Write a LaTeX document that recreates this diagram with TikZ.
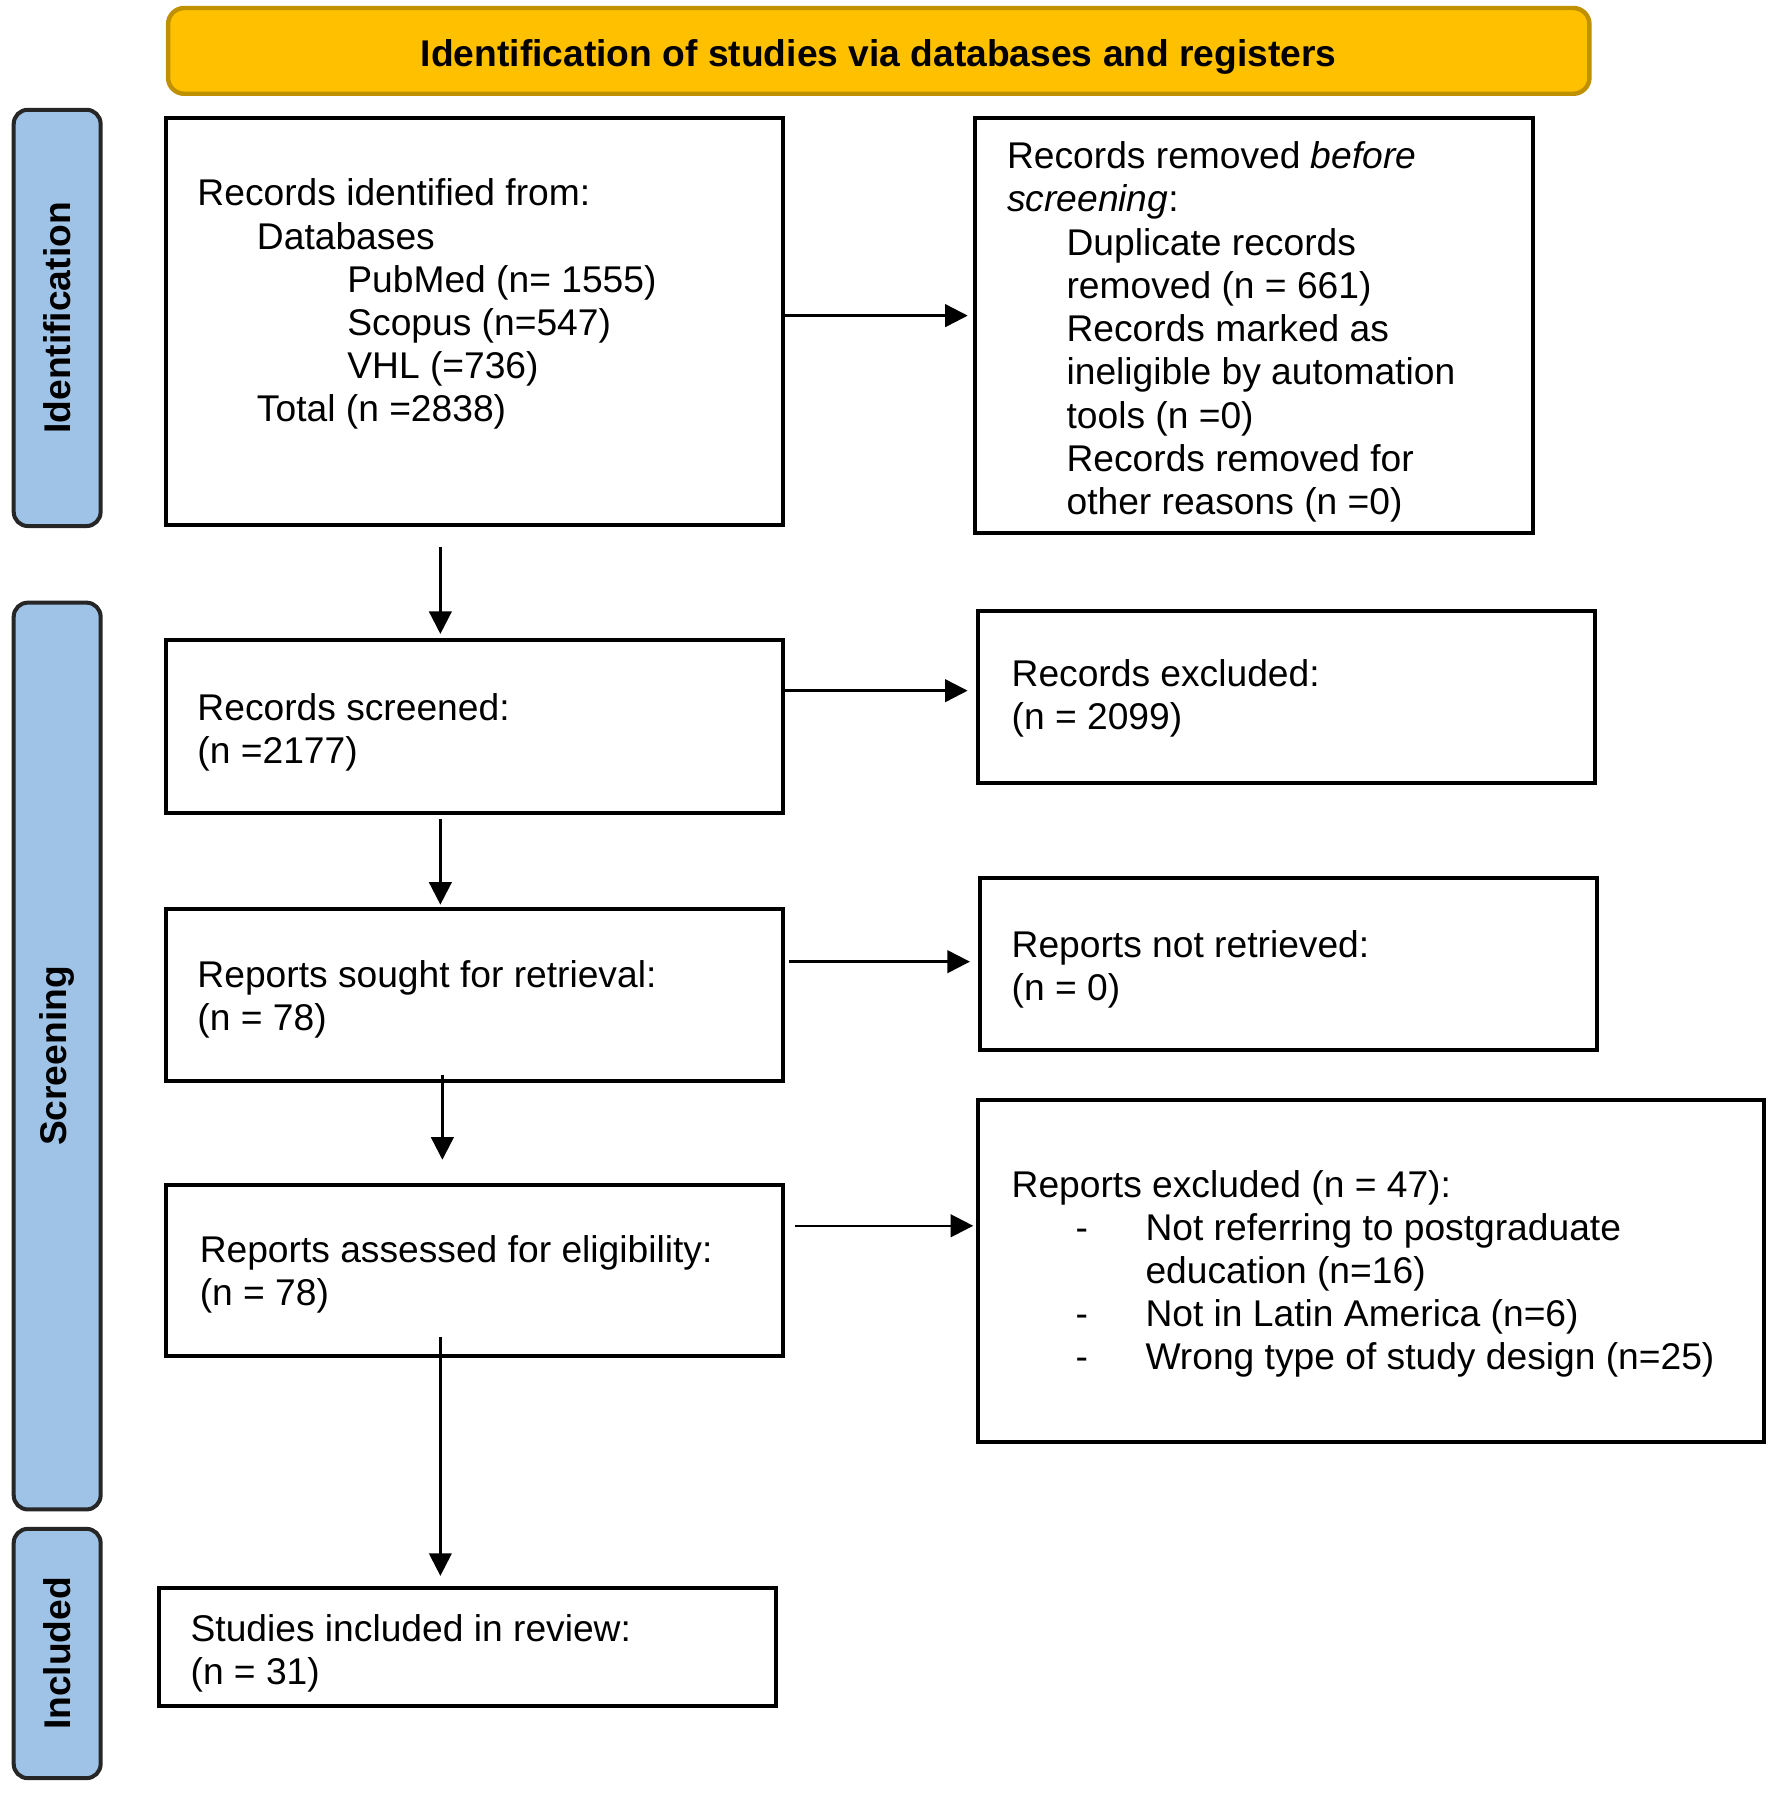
\documentclass[tikz,border=0pt]{standalone}
\usepackage{fontspec}
\setmainfont{Liberation Sans}
\usetikzlibrary{arrows.meta,fit,calc}
\definecolor{hdrfill}{HTML}{FFC000}
\definecolor{hdrline}{HTML}{BF9000}
\definecolor{sidefill}{HTML}{9FC3E7}
\begin{document}
\begin{tikzpicture}[x=0.01cm,y=-0.01cm,
  box/.style={draw=black, line width=1pt, inner sep=0pt, fill=white},
  hdr/.style={draw=hdrline, fill=hdrfill, line width=1.1pt, rounded corners=4pt, inner sep=0pt},
  hdrtxt/.style={anchor=base, inner sep=0pt, font=\fontsize{9.25pt}{11pt}\selectfont\bfseries},
  side/.style={draw=black!85, fill=sidefill, line width=1pt, rounded corners=3.5pt, inner sep=0pt},
  txt/.style={anchor=base west, inner sep=0pt, align=left, font=\fontsize{9.25pt}{10.75pt}\selectfont},
  arr/.style={-{Triangle[length=5.6pt,width=5.6pt]}, line width=0.6pt},
  sidelbl/.style={rotate=90, inner sep=0pt, font=\fontsize{9.25pt}{11pt}\selectfont\bfseries}
]
\useasboundingbox (0,0) rectangle (1550,1568);

% header
\node[hdr, fit={(147,7)(1390,82)}] (hdr) {};
\node[hdrtxt] (title) at ([yshift=-3.8pt]hdr.center) {Identification of studies via databases and registers};

% side bars
\node[side, fit={(12,96)(88,460)}] (s1) {};
\node[side, fit={(12,527)(88,1320)}] (s2) {};
\node[side, fit={(12,1337)(88,1555)}] (s3) {};
\node[sidelbl] (l1) at (s1.center) {Identification};
\node[sidelbl] (l2) at (s2.center) {Screening};
\node[sidelbl] (l3) at (s3.center) {Included};

% boxes
\node[box, fit={(145,103)(685,459)}] (b1) {};
\node[box, fit={(853,103)(1341,466)}] (b4) {};
\node[box, fit={(145,560)(685,711)}] (b2) {};
\node[box, fit={(855,534)(1395,685)}] (b3) {};
\node[box, fit={(145,795)(685,945)}] (b5) {};
\node[box, fit={(857,768)(1397,918)}] (b6) {};
\node[box, fit={(145,1036)(685,1186)}] (b7) {};
\node[box, fit={(855,962)(1543,1261)}] (b9) {};
\node[box, fit={(139,1389)(679,1492)}] (b8) {};

% texts (anchor = baseline of the last line)
\node[txt] (t1) at (172,369) {Records identified from:\\
\hspace*{0.52cm}Databases\\
\hspace*{1.31cm}PubMed (n= 1555)\\
\hspace*{1.31cm}Scopus (n=547)\\
\hspace*{1.31cm}VHL (=736)\\
\hspace*{0.52cm}Total (n =2838)};

\node[txt] (t4) at (880,450) {Records removed \textit{before}\\
\textit{screening}:\\
\hspace*{0.52cm}Duplicate records\\
\hspace*{0.52cm}removed (n = 661)\\
\hspace*{0.52cm}Records marked as\\
\hspace*{0.52cm}ineligible by automation\\
\hspace*{0.52cm}tools (n =0)\\
\hspace*{0.52cm}Records removed for\\
\hspace*{0.52cm}other reasons (n =0)};

\node[txt] (t2) at (172,668) {Records screened:\\(n =2177)};
\node[txt] (t3) at (884,638) {Records excluded:\\(n = 2099)};
\node[txt] (t5) at (172,901) {Reports sought for retrieval:\\(n = 78)};
\node[txt] (t6) at (884,875) {Reports not retrieved:\\(n = 0)};
\node[txt] (t7) at (174,1142) {Reports assessed for eligibility:\\(n = 78)};
\node[txt] (t9) at (884,1198) {Reports excluded (n = 47):\\
\hspace*{0.56cm}\makebox[0.61cm][l]{-}Not referring to postgraduate\\
\hspace*{1.17cm}education (n=16)\\
\hspace*{0.56cm}\makebox[0.61cm][l]{-}Not in Latin America (n=6)\\
\hspace*{0.56cm}\makebox[0.61cm][l]{-}Wrong type of study design (n=25)};
\node[txt] (t8) at (166,1473) {Studies included in review:\\(n = 31)};

% horizontal arrows
\draw[arr, shorten >=1.4pt] ([yshift=1.42pt]b1.east) -- ([yshift=1.42pt]b1.east -| b4.west);
\draw[arr, shorten >=2pt] ([yshift=8.96pt]b2.east) -- ([yshift=8.96pt]b2.east -| b3.west);
\draw[arr, shorten <=0.8pt, shorten >=2pt] ([yshift=8.25pt]b5.east) -- ([yshift=8.25pt]b5.east -| b6.west);
\draw[arr, shorten <=2.3pt, shorten >=0.6pt] ([yshift=11.1pt]b7.east) -- ([yshift=11.1pt]b7.east -| b9.west);

% vertical arrows
\draw[arr, shorten <=5.1pt, shorten >=1.1pt] ([xshift=-8.5pt]b1.south) -- ([xshift=-8.5pt]b1.south |- b2.north);
\draw[arr, shorten <=1.1pt, shorten >=0.6pt] ([xshift=-8.5pt]b2.south) -- ([xshift=-8.5pt]b2.south |- b5.north);
\draw[arr, shorten <=-2pt, shorten >=5.7pt] ([xshift=-8pt]b5.south) -- ([xshift=-8pt]b5.south |- b7.north);
\draw[arr, shorten <=-5.4pt, shorten >=2.6pt] ([xshift=-8.5pt]b7.south) -- ([xshift=-8.5pt]b7.south |- b8.north);
\end{tikzpicture}
\end{document}
